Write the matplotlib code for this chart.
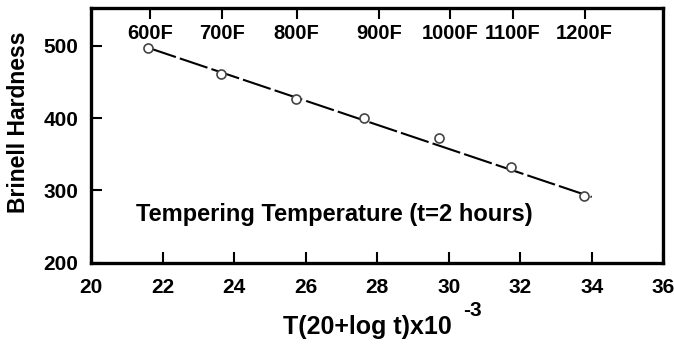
import matplotlib
matplotlib.use("Agg")
import matplotlib.pyplot as plt

# tempering parameter T(20+log t)x10^-3 and hardness at each temperature
temps = ["600F", "700F", "800F", "900F", "1000F", "1100F", "1200F"]
temp_x = [21.65, 23.65, 25.75, 28.05, 30.05, 31.8, 33.8]
pt_x = [21.6, 23.64, 25.72, 27.64, 29.72, 31.75, 33.78]
pt_y = [496, 461, 426, 400, 372, 333, 293]
fit_x = [21.6, 34.0]
fit_y = [497, 291]
xticks = [20, 22, 24, 26, 28, 30, 32, 34, 36]
yticks = [200, 300, 400, 500]

plt.rcParams["font.family"] = ["Liberation Sans", "DejaVu Sans"]

fig = plt.figure(figsize=(6.74, 3.45), dpi=100)
ax = fig.add_axes([0.135, 0.238, 0.849, 0.739])

ax.plot(fit_x, fit_y, color="black", lw=1.5, dashes=(14, 2), zorder=2)
ax.plot(pt_x, pt_y, "o", ms=6.5, mfc="white", mec="#444444", mew=1.2, zorder=3)

ax.set_xlim(20, 36)
ax.set_ylim(200, 552)
ax.set_xticks(xticks)
ax.set_yticks(yticks)
ax.tick_params(direction="in", length=8, width=1.5, labelsize=15)
ax.tick_params(axis="x", pad=11)
ax.tick_params(axis="y", pad=9)
for lab in ax.get_xticklabels() + ax.get_yticklabels():
    lab.set_fontweight("bold")
for s in ax.spines.values():
    s.set_linewidth(2.4)

# temperature marks along the top edge
top = ax.twiny()
top.set_xlim(ax.get_xlim())
top.set_xticks(temp_x)
top.set_xticklabels([])
top.tick_params(direction="in", length=8, width=1.5)
for s in top.spines.values():
    s.set_visible(False)
for x, t in zip(temp_x, temps):
    ax.text(x, 517, t, ha="center", va="center", fontsize=14.5, fontweight="bold")

ax.text(21.25, 267, "Tempering Temperature (t=2 hours)", ha="left", va="center",
        fontsize=17, fontweight="bold")

ax.set_ylabel("Brinell Hardness", fontsize=16.5, fontweight="bold")
ax.yaxis.set_label_coords(-0.107, 0.55)
fig.text(0.42, 0.052, "T(20+log t)x10", ha="left", va="center", fontsize=18,
         fontweight="bold")
fig.text(0.687, 0.10, "-3", ha="left", va="center", fontsize=15, fontweight="bold")

fig.savefig("out.png", dpi=100)
